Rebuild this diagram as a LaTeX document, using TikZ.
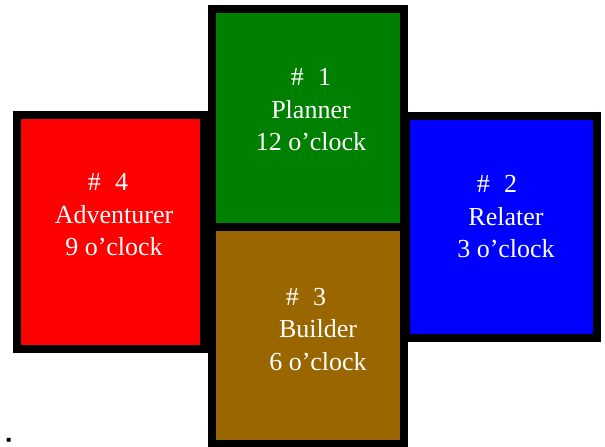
\documentclass[tikz,border=0pt]{standalone}
\usepackage{fontspec}
\setmainfont{Liberation Serif}
\newfontfamily\captionfont{Liberation Sans}
\usepackage{xcolor}
\usepackage{tikz}
\usetikzlibrary{shapes,arrows,positioning}

\definecolor{plannergreen}{RGB}{0,128,0}
\definecolor{relaterblue}{RGB}{0,0,255}
\definecolor{builderbrown}{RGB}{153,102,0}
\definecolor{adventurerred}{RGB}{255,0,0}

% number line of each label, with the wide gap
\newcommand{\quadno}[2]{\#\hspace{0.55em}#1\hspace*{#2}}

\tikzset{
    quadrant/.style={
        rectangle,
        draw=black,
        line width=8pt,
        inner sep=0pt,
        outer sep=0pt
    },
    quadtext/.style={
        text=white,
        align=center,
        inner sep=0pt,
        font=\fontsize{26}{32.5}\selectfont
    }
}

\begin{document}
\begin{tikzpicture}[x=1pt,y=-1pt]
                \useasboundingbox (0,0) rectangle (605,447);

                % left and right
                \node[
                    quadrant,
                    fill=adventurerred,
                    minimum width=187pt,
                    minimum height=234pt
                    ] (adventurer) at (110.5,232) {};

                \node[
                    quadrant,
                    fill=relaterblue,
                    minimum width=191pt,
                    minimum height=222pt
                    ] (relater) at (501.5,227) {};

                % top and bottom
                \node[
                    quadrant,
                    fill=plannergreen,
                    minimum width=192pt,
                    minimum height=218pt
                    ] (planner) at (308,118) {};

                \node[
                    quadrant,
                    fill=builderbrown,
                    minimum width=192pt,
                    minimum height=216.5pt
                    ] (builder) at (308,335.25) {};

                % labels
                \node[quadtext] (planner text)
                    at ([xshift=3pt,yshift=8pt]planner.center)
                    {\quadno{1}{0pt}\\Planner\\12 o'clock};

                \node[quadtext] (relater text)
                    at ([xshift=4.5pt,yshift=10pt]relater.center)
                    {\quadno{2}{18pt}\\Relater\\3 o'clock};

                \node[quadtext] (builder text)
                    at ([xshift=10pt,yshift=6pt]builder.center)
                    {\quadno{3}{24pt}\\Builder\\6 o'clock};

                \node[quadtext] (adventurer text)
                    at ([xshift=3.5pt,yshift=17pt]adventurer.center)
                    {\quadno{4}{12pt}\\Adventurer\\9 o'clock};

                \node[
                    anchor=base west,
                    inner sep=0pt,
                    font=\captionfont\bfseries\fontsize{28}{28}\selectfont
                    ] (colon) at (4,452.5) {:};

\end{tikzpicture}
\end{document}
